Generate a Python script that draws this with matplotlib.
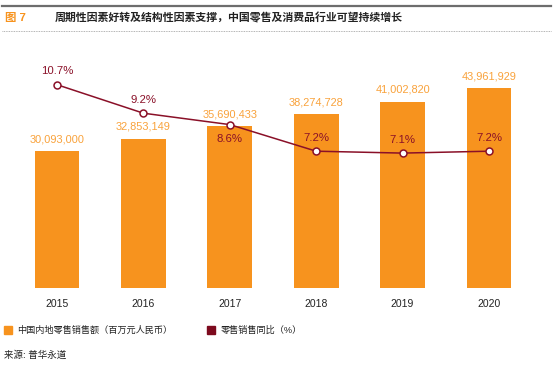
import numpy as np
import matplotlib as mpl
import matplotlib.pyplot as plt
from matplotlib.patches import Rectangle
from matplotlib.lines import Line2D

plt.rcParams['font.family'] = ['Liberation Sans', 'Noto Sans CJK SC', 'DejaVu Sans']

# 数据
years = ["2015", "2016", "2017", "2018", "2019", "2020"]
sales = [30093000, 32853149, 35690433, 38274728, 41002820, 43961929]   # 百万元人民币
growth = [10.7, 9.2, 8.6, 7.2, 7.1, 7.2]                                # %
growth_below = [False, False, True, False, False, False]                # 标签放在点下方

orange = "#F7931E"
orange_txt = "#F9A23B"
dark_red = "#8A1028"

W, H = 553, 365
fig = plt.figure(figsize=(W / 100, H / 100), dpi=100, facecolor="w")

def fx(px):
    return px / W

def fy(py):
    return 1 - py / H

# 坐标区: 底部 y=288px, 顶部 y=60px
ax = fig.add_axes([fx(13.8), fy(288), fx(532.2) - fx(13.8), fy(60) - fy(288)])
x = np.arange(len(years))
ax.bar(x, np.array(sales) / 1e6, width=0.52, color=orange, zorder=2)
ax.set_xlim(-0.5, len(years) - 0.5)
ax.set_ylim(0, 228 / 4.54)
for xi, v in zip(x, sales):
    ax.annotate(f"{v:,}", (xi, v / 1e6), xytext=(0, 5), textcoords="offset points",
                ha="center", va="bottom", fontsize=7.9, color=orange_txt)
ax.set_xticks(x)
ax.set_xticklabels(years, fontsize=7.5, color="#222222")
ax.tick_params(axis="x", length=0, pad=8)
ax.set_yticks([])
for s in ax.spines.values():
    s.set_visible(False)

ax2 = ax.twinx()
ax2.set_ylim(0, 228 / 19.0)
ax2.plot(x, growth, color=dark_red, lw=1.1, marker="o", ms=5,
         markerfacecolor="w", markeredgecolor=dark_red, markeredgewidth=1.1, zorder=3)
for xi, g, below in zip(x, growth, growth_below):
    if below:
        ax2.annotate(f"{g}%", (xi, g), xytext=(0, -7), textcoords="offset points",
                     ha="center", va="top", fontsize=8.2, color=dark_red)
    else:
        ax2.annotate(f"{g}%", (xi, g), xytext=(0, 6), textcoords="offset points",
                     ha="center", va="bottom", fontsize=8.2, color=dark_red)
ax2.set_yticks([])
for s in ax2.spines.values():
    s.set_visible(False)

# 标题
fig.add_artist(Line2D([fx(2), fx(551)], [fy(6), fy(6)], color="#6d6d6d", lw=1.6))
fig.add_artist(Line2D([fx(2), fx(551)], [fy(31), fy(31)], color="#9a9a9a", lw=0.6,
                      linestyle=(0, (1, 1))))
fig.text(fx(5), fy(18), "图 7", fontsize=8.2, fontweight="bold", color=orange,
         va="center", ha="left")
fig.text(fx(55), fy(18), "周期性因素好转及结构性因素支撑，中国零售及消费品行业可望持续增长",
         fontsize=7.85, fontweight="bold", color="#222222", va="center", ha="left")

# 图例
fig.add_artist(Rectangle((fx(4), fy(334)), fx(8), fy(326) - fy(334),
                         transform=fig.transFigure, color=orange))
fig.text(fx(17), fy(330), "中国内地零售销售额（百万元人民币）", fontsize=6.6,
         color="#222222", va="center", ha="left")
fig.add_artist(Rectangle((fx(207), fy(334)), fx(8), fy(326) - fy(334),
                         transform=fig.transFigure, color="#7D0A1E"))
fig.text(fx(221), fy(330), "零售销售同比（%）", fontsize=6.6,
         color="#222222", va="center", ha="left")

fig.text(fx(4), fy(355), "来源: 普华永道", fontsize=6.8, color="#222222",
         va="center", ha="left")

plt.savefig("out.png", dpi=100, facecolor="w")
